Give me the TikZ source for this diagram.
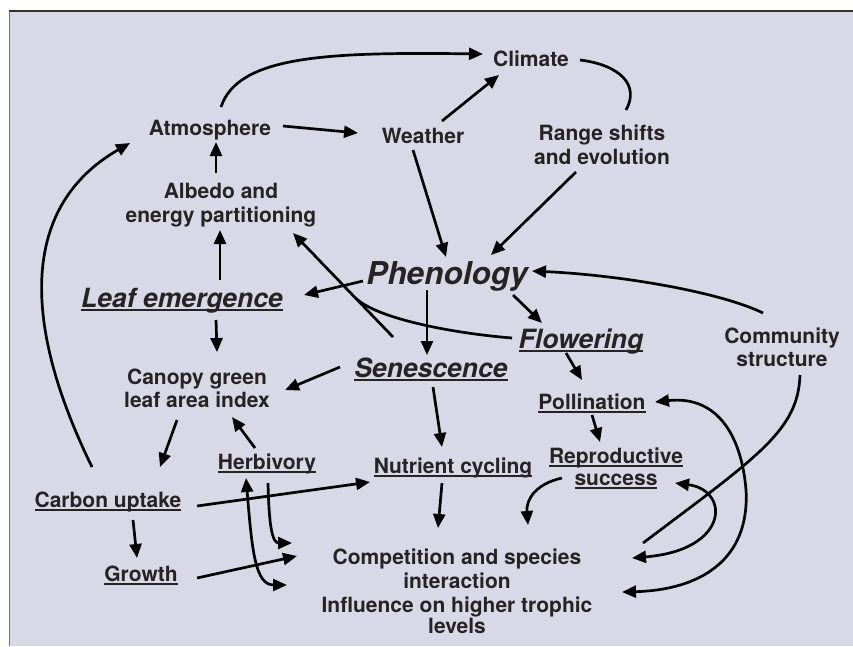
\documentclass[tikz,border=0pt]{standalone}
\usepackage{fontspec}
\setmainfont{TeX Gyre Heros}
\usetikzlibrary{arrows.meta,calc}
\definecolor{bgc}{RGB}{217,216,230}
\definecolor{txt}{RGB}{38,35,37}
\newsavebox{\myulbox}
\newcommand{\myul}[1]{\sbox{\myulbox}{#1}\rlap{\rule[-3.7pt]{\wd\myulbox}{1.4pt}}\usebox{\myulbox}}
\begin{document}
\begin{tikzpicture}[x=1pt,y=-1pt,
  lbl/.style={font=\fontsize{21}{23.5}\selectfont\bfseries, text=txt, inner sep=0pt, anchor=base, align=center},
  big/.style={lbl, font=\fontsize{26.5}{30}\selectfont\bfseries\itshape},
  huge/.style={lbl, font=\fontsize{31.5}{34}\selectfont\bfseries\itshape},
  ln/.style={line width=2.7pt, black},
  arr/.style={ln, -{Triangle[length=14pt,width=12pt]}},
  dbl/.style={ln, {Triangle[length=14pt,width=12pt]}-{Triangle[length=14pt,width=12pt]}}]
\useasboundingbox (0,0) rectangle (853,646);
\fill[white] (0,0) rectangle (853,646);
\fill[bgc] (9,11) rectangle (853,646);
\draw[line width=0.9pt, black!55] (9,11) -- (9,646);
\draw[line width=1.1pt, black!80] (9,11) -- (853,11);

% nodes (base = baseline of the last line)
\node[lbl] (clim) at (531,66) {Climate};
\node[lbl] (atm) at (210,135) {Atmosphere};
\node[lbl] (wea) at (423,143) {Weather};
\node[lbl, font=\fontsize{21}{24}\selectfont\bfseries] (range) at (602,164) {Range shifts\\and evolution};
\node[lbl, font=\fontsize{21}{24}\selectfont\bfseries] (alb) at (221,222) {Albedo and\\energy partitioning};
\node[huge] (phen) at (447,284) {Phenology};
\node[big] (leaf) at (182,307) {\myul{Leaf emergence}};
\node[big] (flow) at (581,348) {\myul{Flowering}};
\node[big] (sen) at (431,377) {\myul{Senescence}};
\node[lbl, font=\fontsize{21}{23}\selectfont\bfseries] (comm) at (782,366) {Community\\structure};
\node[lbl, font=\fontsize{21}{23}\selectfont\bfseries] (can) at (197,407) {Canopy green\\leaf area index};
\node[lbl] (pol) at (592,409) {\myul{Pollination}};
\node[lbl, font=\fontsize{21}{22}\selectfont\bfseries] (rep) at (616,485) {\myul{Reproductive}\\\myul{success}};
\node[lbl] (nut) at (453,473) {\myul{Nutrient cycling}};
\node[lbl] (herb) at (267,469) {\myul{Herbivory}};
\node[lbl] (carb) at (108,507) {\myul{Carbon uptake}};
\node[lbl] (grow) at (141,581) {\myul{Growth}};
\node[lbl, font=\fontsize{21}{24}\selectfont\bfseries] (comp) at (457,633) {Competition and species\\interaction\\Influence on higher trophic\\[-3pt]levels};

% connectors
\draw[arr] ($(atm.base)+(11,-28)$) .. controls +(17,-52) and +(-153,-2) .. ($(clim.base)+(-48,-12)$);
\draw[ln] ($(clim.base)+(49,-6)$) .. controls +(40,5) and +(14,-25) .. ($(range.base)+(24,-54)$);
\draw[arr] ($(atm.base)+(73,-9)$) -- ($(wea.base)+(-65,-10)$);
\draw[arr] ($(wea.base)+(19,-22)$) -- ($(clim.base)+(-32,9)$);
\draw[arr] ($(wea.base)+(-10,7)$) -- ($(phen.base)+(-1,-27)$);
\draw[arr] ($(range.base)+(-26,8)$) -- ($(phen.base)+(44,-29)$);
\draw[arr] ($(alb.base)+(-5,-49)$) -- ($(atm.base)+(6,7)$);
\draw[arr] ($(leaf.base)+(38,-27)$) -- ($(alb.base)+(-1,8)$);
\draw[arr] ($(phen.base)+(-84,-3)$) -- ($(leaf.base)+(122,-12)$);
\draw[arr] ($(sen.base)+(-38,-40)$) -- coordinate[pos=0.38] (mrg) ($(alb.base)+(72,11)$);
\draw[ln] ($(flow.base)+(-69,-10)$) .. controls +(-62,-5) and +(20,20.5) .. (mrg);
\draw[arr] ($(phen.base)+(-20,6)$) -- ($(sen.base)+(-4,-22)$);
\draw[arr] ($(phen.base)+(66,11)$) -- ($(flow.base)+(-39,-25)$);
\draw[arr] ($(comm.base)+(-19,-53)$) .. controls +(-43,-21) and +(88,4) .. ($(phen.base)+(85,-13)$);
\draw[arr] ($(flow.base)+(-15,5)$) -- ($(pol.base)+(-10,-29)$);
\draw[arr] ($(sen.base)+(-91,-10)$) -- ($(can.base)+(88,-17)$);
\draw[arr] ($(sen.base)+(2,10)$) -- ($(nut.base)+(-11,-26)$);
\draw[arr] ($(leaf.base)+(34,13)$) -- ($(can.base)+(20,-55)$);
\draw[arr] ($(can.base)+(-20,13)$) -- ($(carb.base)+(52,-40)$);
\draw[arr] ($(herb.base)+(-12,-21)$) -- ($(can.base)+(35,10)$);
\draw[arr] ($(carb.base)+(-16,-40)$) .. controls +(-72,-147) and +(-108,62) .. ($(atm.base)+(-80,8)$);
\draw[arr] ($(carb.base)+(25,13)$) -- ($(grow.base)+(-4,-23)$);
\draw[arr] ($(carb.base)+(89,-1)$) -- ($(nut.base)+(-83,9)$);
\draw[arr] ($(grow.base)+(56,-3)$) -- ($(comp.base)+(-160,-77)$);
\draw[dbl] ($(herb.base)+(-21,9)$) .. controls +(6,72) and +(-32,0) .. ($(comp.base)+(-170,-48)$);
\draw[arr] ($(herb.base)+(1,14)$) .. controls +(1,42) and +(-20,0) .. ($(comp.base)+(-165,-90)$);
\draw[arr] ($(nut.base)+(-11,10)$) -- ($(comp.base)+(-19,-105)$);
\draw[arr] ($(pol.base)+(0,6)$) -- ($(rep.base)+(-16,-43)$);
\draw[arr] ($(rep.base)+(-54,-7)$) .. controls +(-27,6) and +(-2,-25) .. ($(comp.base)+(71,-108)$);
\draw[ln] ($(comm.base)+(18,9)$) .. controls +(-2,55) and +(117,-88) .. ($(comp.base)+(186,-90)$);
\draw[dbl] ($(rep.base)+(59,-2)$) .. controls +(55,7) and +(98,-8) .. ($(comp.base)+(175,-75)$);
\draw[dbl] ($(pol.base)+(63,-7)$) .. controls +(65,-7) and +(-4,-50) .. ($(pol.base)+(154,81)$)
  .. controls +(4,70) and +(78,-2) .. ($(comp.base)+(165,-41)$);
\end{tikzpicture}
\end{document}
